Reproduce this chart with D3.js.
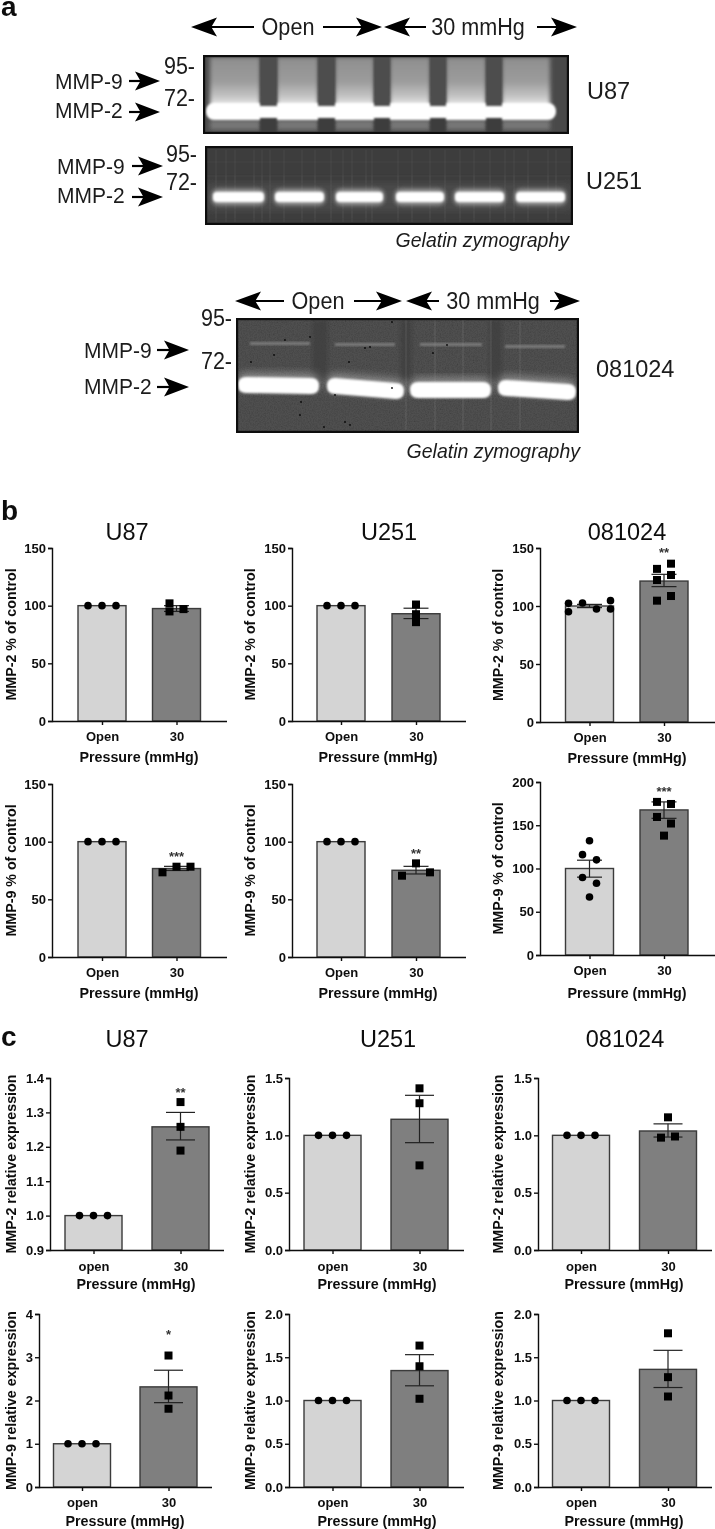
<!DOCTYPE html>
<html><head><meta charset="utf-8">
<script src="https://cdn.jsdelivr.net/npm/d3@7/dist/d3.min.js"></script>
<style>html,body{margin:0;padding:0;background:#fff}svg{display:block}text{font-family:"Liberation Sans",Arial,sans-serif;fill:#111}</style>
</head><body><svg id="c" width="715" height="1529"></svg>
<script>
// ---------- data, panel order: b row 1, b row 2, c row 1, c row 2 (U87, U251, 081024) ----------
const titles = ["U87","U251","081024"];
const yLabels = ["MMP-2 % of control","MMP-9 % of control","MMP-2 relative expression","MMP-9 relative expression"];
const xLabel = "Pressure (mmHg)";
const catsB = ["Open","30"];
const catsC = ["open","30"];
const yDomains = [[0,150],[0,150],[0,150],[0,150],[0,150],[0,200],[0.9,1.4],[0,1.5],[0,1.5],[0,4],[0,2],[0,2]];
const yTicks = [[0,50,100,150],[0,50,100,150],[0,50,100,150],[0,50,100,150],[0,50,100,150],[0,50,100,150,200],
  [0.9,1.0,1.1,1.2,1.3,1.4],[0,0.5,1,1.5],[0,0.5,1,1.5],[0,1,2,3,4],[0,0.5,1,1.5,2],[0,0.5,1,1.5,2]];
const meanOpen = [100,100,100,100,100,100,1,1,1,1,1,1];
const mean30 = [97.5,93,121.5,76.7,75.2,167.7,1.258,1.14,1.038,2.315,1.346,1.36];
const errOpen = [null,null,[98.6,101.4],null,null,[90,109.6],null,null,null,null,null,null];
const err30 = [[95,100],[88.8,97.8],[116.7,127.3],[75,78.6],[72,78.6],[158,177],[1.22,1.30],[0.936,1.349],[0.985,1.10],[1.95,2.7],[1.17,1.53],[1.15,1.58]];
const pointsOpen = [[100,100,100],[100,100,100],[102.3,95,102.6,97.4,104.6,97.4],[100,100,100],[100,100,100],[132,116,110,89.6,83,67],
  [1,1,1],[1,1,1],[1,1,1],[1,1,1],[1,1,1],[1,1,1]];
const points30 = [[102,95,97],[101,92.6,85.7],[136.5,132,126.7,122.4,108.6,104.6],[73.4,78.3,78.3],[70.5,81.2,73.4],[177,174.6,159.6,152,138],
  [1.33,1.258,1.189],[1.41,1.28,0.738],[1.157,0.98,0.99],[3.04,2.115,1.81],[1.635,1.396,1.02],[1.777,1.27,1.046]];
const stars = ["","","**","***","**","***","**","","","*","",""];
const starValues = [0,0,148,89.3,91.6,191.5,1.366,0,0,3.59,0,0];
// swarm slots (which column of the beeswarm each point falls in)
const slotsOpen = [[-1,0,1],[-1,0,1],[-1.5,-1.5,-0.5,0.5,1.5,1.5],[-1,0,1],[-1,0,1],[0,-0.5,0.5,-0.5,0.5,0],
  [-1,0,1],[-1,0,1],[-1,0,1],[-1,0,1],[-1,0,1],[-1,0,1]];
const slots30 = [[-0.5,-0.5,0.5],[0,0,0],[0.5,-0.5,0.5,-0.5,0.5,-0.5],[-1,0,1],[-1,0,1],[-0.5,0.5,-0.5,0.5,0],
  [0,0,0],[0,0,0],[0,-0.5,0.5],[0,0,0],[0,0,0],[0,0,0]];

// ---------- layout ----------
const SLOT = 14;
const layout = [
 {ax:52, end:227,top:548,y0:721,c:[102,176.5],w:48,lx:11, px:139,tl:736,pl:757,cap:25},
 {ax:292,end:466,top:548,y0:721,c:[341,416],w:48,lx:250,px:378,tl:736,pl:757,cap:25},
 {ax:540,end:715,top:548,y0:722,c:[589.5,664],w:48,lx:498,px:627,tl:737,pl:758,cap:25},
 {ax:52, end:227,top:784,y0:957,c:[102,176.5],w:48,lx:11, px:139,tl:972,pl:993,cap:25},
 {ax:292,end:466,top:784,y0:957,c:[341,416],w:48,lx:250,px:378,tl:972,pl:993,cap:25},
 {ax:540,end:715,top:782,y0:955,c:[589.5,664],w:48,lx:498,px:627,tl:970,pl:993,cap:25},
 {ax:50, end:224,top:1078,y0:1250,c:[93.5,180.5],w:57,lx:11, px:136,tl:1266,pl:1284,cap:29},
 {ax:289,end:464,top:1078,y0:1250,c:[332.5,419.5],w:57,lx:250,px:377,tl:1266,pl:1284,cap:29},
 {ax:538,end:712,top:1078,y0:1250,c:[581,668],w:57,lx:498,px:624,tl:1266,pl:1284,cap:29},
 {ax:39, end:212,top:1314,y0:1487,c:[82,168.5],w:57,lx:11, px:125,tl:1502,pl:1521,cap:29},
 {ax:289,end:464,top:1314,y0:1487,c:[332.5,419.5],w:57,lx:250,px:377,tl:1502,pl:1521,cap:29},
 {ax:538,end:712,top:1314,y0:1487,c:[581,668],w:57,lx:498,px:624,tl:1502,pl:1521,cap:29}
];
const svg = d3.select("#c");
const defs = svg.append("defs");
const blur = (id,s)=>defs.append("filter").attr("id",id).attr("x","-30%").attr("y","-30%").attr("width","160%").attr("height","160%")
  .append("feGaussianBlur").attr("stdDeviation",s);
blur("soft",0.45);blur("b1",1.2);blur("b2",2.2);blur("b4",4);blur("b6",7);
// fine grain for the gel photographs
const grain = defs.append("filter").attr("id","grain").attr("x",0).attr("y",0).attr("width","100%").attr("height","100%");
grain.append("feTurbulence").attr("type","fractalNoise").attr("baseFrequency",0.75).attr("numOctaves",2).attr("seed",4);
grain.append("feColorMatrix").attr("values","0 0 0 0 0  0 0 0 0 0  0 0 0 0 0  1.6 0 0 0 -0.62");
const root = svg.append("g").attr("filter","url(#soft)");

// ---------- panel letters ----------
[["a",1,16],["b",1,520],["c",1,1046]].forEach(([t,x,y])=>root.append("text").attr("x",x).attr("y",y)
  .attr("font-size",28).attr("font-weight",700).text(t));

// ---------- bar panels ----------
layout.forEach((L,i)=>{
  const g = root.append("g");
  const cats = i<6?catsB:catsC;
  const y = d3.scaleLinear().domain(yDomains[i]).range([L.y0,L.top]);
  const x = d3.scalePoint().domain(cats).range(L.c);
  // bars
  [[meanOpen[i],"#d4d4d4"],[mean30[i],"#7f7f7f"]].forEach(([m,f],k)=>{
    g.append("rect").attr("x",x(cats[k])-L.w/2).attr("width",L.w).attr("y",y(m)).attr("height",L.y0-y(m))
      .attr("fill",f).attr("stroke","#3a3a3a").attr("stroke-width",1.4);
  });
  // axes
  const dec = i===9?d3.format("d"):(i>=6?d3.format(".1f"):d3.format("d"));
  const ya = g.append("g").attr("transform",`translate(${L.ax},0)`).call(d3.axisLeft(y).tickValues(yTicks[i]).tickFormat(dec).tickSize(4).tickPadding(2));
  const xa = g.append("g").attr("transform",`translate(0,${L.y0})`).call(d3.axisBottom(x).tickSize(4).tickSizeOuter(0));
  xa.select(".domain").attr("d",`M${L.ax},0.5H${L.end}`);
  [ya,xa].forEach(a=>{a.selectAll("path,line").attr("stroke","#111").attr("stroke-width",1.4);
    a.selectAll("text").attr("font-size",13).attr("font-weight",700).style("fill","#111");});
  xa.selectAll("text").attr("y",null).attr("dy",null).attr("text-anchor","middle").attr("dominant-baseline","central")
    .attr("transform",`translate(0,${L.tl-L.y0})`);
  // errors and points
  [[errOpen[i],pointsOpen[i],slotsOpen[i],0],[err30[i],points30[i],slots30[i],1]].forEach(([e,p,s,k])=>{
    const cx = x(cats[k]);
    if(e){
      const ln=(a,b,c,d)=>g.append("line").attr("x1",a).attr("x2",b).attr("y1",c).attr("y2",d).attr("stroke","#222").attr("stroke-width",1.2);
      ln(cx,cx,y(e[0]),y(e[1]));
      ln(cx-L.cap/2,cx+L.cap/2,y(e[0]),y(e[0]));
      ln(cx-L.cap/2,cx+L.cap/2,y(e[1]),y(e[1]));
    }
    p.forEach((v,j)=>{
      const px=cx+s[j]*SLOT;
      if(k===0) g.append("circle").attr("cx",px).attr("cy",y(v)).attr("r",3.8).attr("fill","#000");
      else g.append("rect").attr("x",px-4).attr("y",y(v)-4).attr("width",8).attr("height",8).attr("fill","#000");
    });
  });
  if(stars[i]) g.append("text").attr("x",x(cats[1])).attr("y",y(starValues[i])+7).attr("text-anchor","middle").attr("font-size",13).attr("font-weight",700).style("fill","#333").text(stars[i]);
  // labels
  const yl = yLabels[Math.floor(i/3)];
  g.append("text").attr("transform",`translate(${L.lx},${(L.top+L.y0)/2}) rotate(-90)`).attr("text-anchor","middle").attr("dominant-baseline","central")
    .attr("font-size",14.25).attr("font-weight",700).text(yl);
  g.append("text").attr("x",L.px).attr("y",L.pl).attr("text-anchor","middle").attr("dominant-baseline","central")
    .attr("font-size",14.3).attr("font-weight",700).text(xLabel);
});
// panel titles
[[127,532],[389,532],[627,532],[127,1039],[388,1039],[625,1039]].forEach(([x,y],i)=>root.append("text").attr("x",x).attr("y",y)
  .attr("text-anchor","middle").attr("dominant-baseline","central").attr("font-size",23.5).text(titles[i%3]));

// ---------- gel images (panel a) ----------
function stealth(g,x,y,dir,len=26,h=19){
  const tip=x, back=x-dir*len, notch=x-dir*len*0.78;
  g.append("path").attr("d",`M${tip},${y}L${back},${y-h/2}L${notch},${y}L${back},${y+h/2}Z`).attr("fill","#000");
}
function doubleArrow(g,x0,l0,r0,x1,y){
  g.append("line").attr("x1",x0+10).attr("x2",l0).attr("y1",y).attr("y2",y).attr("stroke","#000").attr("stroke-width",2);
  g.append("line").attr("x1",r0).attr("x2",x1-10).attr("y1",y).attr("y2",y).attr("stroke","#000").attr("stroke-width",2);
  stealth(g,x0,y,-1); stealth(g,x1,y,1);
}
function sideArrow(g,x0,x1,y){
  g.append("line").attr("x1",x0).attr("x2",x1-12).attr("y1",y).attr("y2",y).attr("stroke","#000").attr("stroke-width",2.2);
  stealth(g,x1,y,1,25,19);
}
// slightly condensed text: taller glyphs fitted into the width they have at the base size
const label=(t,x,y,anchor="start",size=21,style="normal",tall=1.07)=>{
  const s=root.append("text").attr("x",x).attr("y",y).attr("text-anchor",anchor)
    .attr("dominant-baseline","central").attr("font-size",size).attr("font-style",style).style("fill","#1a1a1a").text(t);
  const w=s.node().getComputedTextLength();
  s.attr("font-size",size*tall).attr("textLength",w).attr("lengthAdjust","spacingAndGlyphs");
  return s;
};
const clipFor=(id,x,y,w,h)=>defs.append("clipPath").attr("id",id).append("rect").attr("x",x).attr("y",y).attr("width",w).attr("height",h);
const ga=root.append("g");
doubleArrow(ga,191,254,323,382,27); doubleArrow(ga,384,426,537,577,27);
label("Open",288,27,"middle",21.6); label("30 mmHg",478,27,"middle",21.6);
label("95-",195,66,"end",21.5); label("72-",195,98,"end",21.5);
label("MMP-9",55,81); sideArrow(ga,129,160,81);
label("MMP-2",55,110.5); sideArrow(ga,129,160,112);
label("U87",587,91,"start",23.5,"normal",1);

// U87 gel
(function(){
  const X=203,Y=55,W=366,H=79;
  clipFor("g1",X,Y,W,H);
  const g=root.append("g").attr("clip-path","url(#g1)");
  const gr=defs.append("linearGradient").attr("id","lane1").attr("x1",0).attr("x2",0).attr("y1",0).attr("y2",1);
  [[0,"#8e8e8e"],[0.45,"#9c9c9c"],[0.72,"#c4c4c4"],[0.9,"#f0f0f0"],[1,"#ffffff"]].forEach(([o,c])=>gr.append("stop").attr("offset",o).attr("stop-color",c));
  g.append("rect").attr("x",X).attr("y",Y).attr("width",W).attr("height",H).attr("fill","#4a4a4a");
  const lanes=[[210,260],[277,318],[335,374],[390,430],[446,486],[502,550]];
  const lg=g.append("g").attr("filter","url(#b2)");
  lanes.forEach(l=>lg.append("rect").attr("x",l[0]).attr("y",57).attr("width",l[1]-l[0]).attr("height",55).attr("fill","url(#lane1)"));
  lanes.forEach(l=>lg.append("rect").attr("x",l[0]).attr("y",120).attr("width",l[1]-l[0]).attr("height",10).attr("fill","#777"));
  g.append("rect").attr("x",206).attr("y",103).attr("width",350).attr("height",17).attr("rx",8).attr("fill","#fff").attr("filter","url(#b1)");
  [[260,277],[318,335],[374,390],[430,446],[486,502]].forEach(d=>{
    g.append("rect").attr("x",d[0]).attr("y",56).attr("width",d[1]-d[0]).attr("height",50).attr("fill","#4d4d4d").attr("filter","url(#b1)");
    g.append("rect").attr("x",d[0]).attr("y",118).attr("width",d[1]-d[0]).attr("height",14).attr("fill","#3c3c3c").attr("filter","url(#b1)");
  });
  g.append("rect").attr("x",X+1).attr("y",Y+1).attr("width",W-2).attr("height",H-2).attr("fill","none").attr("stroke","#111").attr("stroke-width",2.4);
})();

// U251 gel
label("95-",197,154,"end",21.5); label("72-",197,182,"end",21.5);
label("MMP-9",57,166); sideArrow(ga,132,163,166);
label("MMP-2",57,195); sideArrow(ga,132,163,197);
label("U251",586,181,"start",23.5,"normal",1);
(function(){
  const X=205,Y=146,W=368,H=79;
  clipFor("g2",X,Y,W,H);
  const g=root.append("g").attr("clip-path","url(#g2)");
  g.append("rect").attr("x",X).attr("y",Y).attr("width",W).attr("height",H).attr("fill","#3c3c3c");
  g.append("rect").attr("x",X).attr("y",183).attr("width",W).attr("height",28).attr("fill","#5a5a5a").attr("opacity",0.5).attr("filter","url(#b4)");
  [216,226,235,254,262,270,284,302,315,331,343,352,366,372,398,412,430,445,460,474,490,505,514,528,548,556].forEach(x=>
    g.append("line").attr("x1",x).attr("x2",x).attr("y1",150).attr("y2",222).attr("stroke","#8a8a8a").attr("stroke-width",0.6).attr("opacity",0.32));
  [162,176].forEach(y=>g.append("line").attr("x1",X).attr("x2",X+W).attr("y1",y).attr("y2",y).attr("stroke","#777").attr("stroke-width",0.5).attr("opacity",0.22));
  [[212,265],[274,325],[335,384],[395,445],[454,505],[515,566]].forEach(([a,b])=>{
    g.append("rect").attr("x",a).attr("y",189).attr("width",b-a).attr("height",16).attr("rx",6).attr("fill","#bbb").attr("opacity",0.75).attr("filter","url(#b2)");
    g.append("rect").attr("x",a+1).attr("y",192).attr("width",b-a-2).attr("height",10).attr("rx",4).attr("fill","#fff").attr("filter","url(#b1)");
  });
  g.append("rect").attr("x",X+1).attr("y",Y+1).attr("width",W-2).attr("height",H-2).attr("fill","none").attr("stroke","#111").attr("stroke-width",2.4);
})();
label("Gelatin zymography",569,239,"end",19.5,"italic");

// 081024 gel
doubleArrow(ga,235,284,354,402,301); doubleArrow(ga,406,439,550,580,301);
label("Open",318,301,"middle",21.6); label("30 mmHg",493,301,"middle",21.6);
label("95-",232,318,"end",21.5); label("72-",232,361,"end",21.5);
label("MMP-9",84,350); sideArrow(ga,157,189,350);
label("MMP-2",84,386); sideArrow(ga,157,189,387);
label("081024",596,369,"start",23.5,"normal",1);
(function(){
  const X=236,Y=318,W=343,H=115;
  clipFor("g3",X,Y,W,H);
  const g=root.append("g").attr("clip-path","url(#g3)");
  g.append("rect").attr("x",X).attr("y",Y).attr("width",W).attr("height",H).attr("fill","#505050");
  g.append("rect").attr("x",X).attr("y",Y).attr("width",W).attr("height",H).attr("filter","url(#grain)").attr("opacity",0.22);
  [[312,328],[400,412],[489,502]].forEach(([a,b])=>g.append("rect").attr("x",a).attr("y",320).attr("width",b-a).attr("height",60).attr("fill","#3f3f3f").attr("opacity",0.8).attr("filter","url(#b2)"));
  [[250,310,343],[335,395,344],[420,482,344],[505,565,346]].forEach(([a,b,y])=>
    g.append("rect").attr("x",a).attr("y",y-1).attr("width",b-a).attr("height",3).attr("fill","#7a7a7a").attr("filter","url(#b1)"));
  [406,435,463,491,520].forEach(x=>
    g.append("line").attr("x1",x).attr("x2",x).attr("y1",320).attr("y2",430).attr("stroke","#999").attr("stroke-width",0.6).attr("opacity",0.4));
  [[238,319,385,386],[327,404,386,391],[410,491,390,390],[498,576,388,392]].forEach(([a,b,y0,y1])=>{
    const r=8;
    const d=`M${a+r},${y0-r}L${b-r},${y1-r}Q${b},${y1-r} ${b},${y1}Q${b},${y1+r} ${b-r},${y1+r}L${a+r},${y0+r}Q${a},${y0+r} ${a},${y0}Q${a},${y0-r} ${a+r},${y0-r}Z`;
    g.append("path").attr("d",d).attr("fill","#bbb").attr("opacity",0.6).attr("transform","translate(0,-4)").attr("filter","url(#b4)");
    g.append("path").attr("d",d).attr("fill","#fff").attr("filter","url(#b1)");
  });
  [[285,340],[251,362],[274,355],[310,337],[335,395],[349,362],[370,347],[392,322],[300,415],[312,432],[324,427],[345,422],[350,425],[365,348],[433,353],[447,345],[301,402],[392,388]].forEach(([x,y])=>
    g.append("circle").attr("cx",x).attr("cy",y).attr("r",0.9).attr("fill","#0a0a0a"));
  g.append("rect").attr("x",X+1).attr("y",Y+1).attr("width",W-2).attr("height",H-2).attr("fill","none").attr("stroke","#111").attr("stroke-width",2.4);
})();
label("Gelatin zymography",580,450,"end",19.5,"italic");
</script></body></html>
